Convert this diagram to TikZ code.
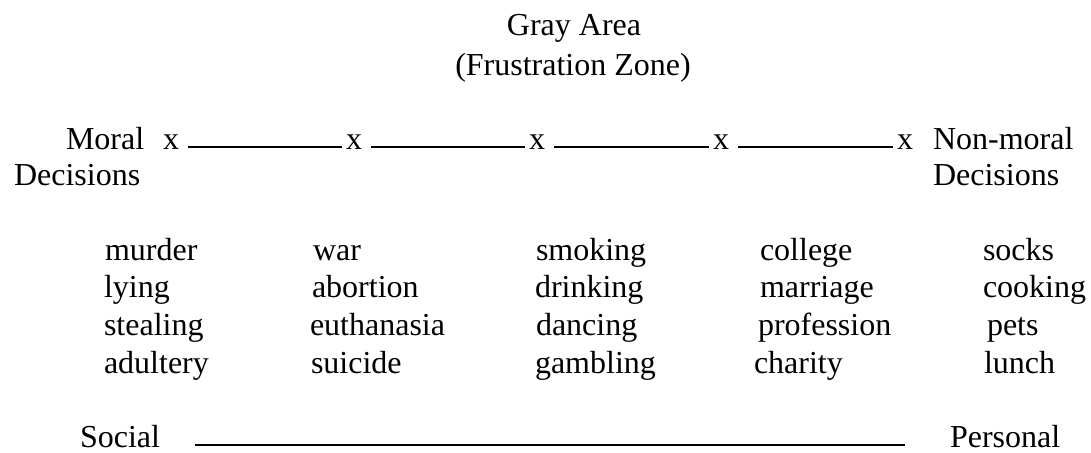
\documentclass[tikz,border=0pt]{standalone}
\usepackage{fontspec}
\setmainfont{Liberation Serif}
\begin{document}
\begin{tikzpicture}[x=1pt,y=-1pt,
  txt/.style={font=\fontsize{32pt}{38pt}\selectfont,inner sep=0pt,outer sep=0pt,anchor=base west},
  title/.style={txt,anchor=base},
  rule/.style={line width=1.4pt}]
  \useasboundingbox (0,0) rectangle (1091,452);
  % cabecera
  \node[title] (gray) at (574,36) {Gray Area};
  \node[title] (zone) at (573,75) {(Frustration Zone)};
  % escala moral / no moral
  \node[txt] (moral) at (66,149) {Moral};
  \node[txt] (moraldec) at (14,185) {Decisions};
  \node[txt] (x1) at (163,149) {x};
  \node[txt] (x2) at (346,149) {x};
  \node[txt] (x3) at (529,149) {x};
  \node[txt] (x4) at (713,149) {x};
  \node[txt] (x5) at (897,149) {x};
  \node[txt] (nonmoral) at (933,149) {Non-moral};
  \node[txt] (nonmoraldec) at (933,185) {Decisions};
  \draw[rule] ([xshift=9pt,yshift=2pt]x1.base east) -- ([xshift=-4pt,yshift=2pt]x2.base west);
  \draw[rule] ([xshift=9pt,yshift=2pt]x2.base east) -- ([xshift=-4pt,yshift=2pt]x3.base west);
  \draw[rule] ([xshift=9pt,yshift=2pt]x3.base east) -- ([xshift=-4pt,yshift=2pt]x4.base west);
  \draw[rule] ([xshift=9pt,yshift=2pt]x4.base east) -- ([xshift=-4pt,yshift=2pt]x5.base west);
  % ejemplos
  \node[txt] (murder) at (105,260) {murder};
  \node[txt] (lying) at (104,297) {lying};
  \node[txt] (stealing) at (104,335) {stealing};
  \node[txt] (adultery) at (104,373) {adultery};
  \node[txt] (war) at (313,260) {war};
  \node[txt] (abortion) at (312,297) {abortion};
  \node[txt] (euthanasia) at (310,335) {euthanasia};
  \node[txt] (suicide) at (311,373) {suicide};
  \node[txt] (smoking) at (536,260) {smoking};
  \node[txt] (drinking) at (535,297) {drinking};
  \node[txt] (dancing) at (536,335) {dancing};
  \node[txt] (gambling) at (535,373) {gambling};
  \node[txt] (college) at (760,260) {college};
  \node[txt] (marriage) at (760,297) {marriage};
  \node[txt] (profession) at (758,335) {profession};
  \node[txt] (charity) at (754,373) {charity};
  \node[txt] (socks) at (983,260) {socks};
  \node[txt] (cooking) at (983,297) {cooking};
  \node[txt] (pets) at (987,335) {pets};
  \node[txt] (lunch) at (984,373) {lunch};
  % escala social / personal
  \node[txt] (social) at (80,447) {Social};
  \node[txt] (personal) at (950,447) {Personal};
  \draw[rule] ([xshift=35pt,yshift=2pt]social.base east) -- ([xshift=-45pt,yshift=2pt]personal.base west);
\end{tikzpicture}
\end{document}
